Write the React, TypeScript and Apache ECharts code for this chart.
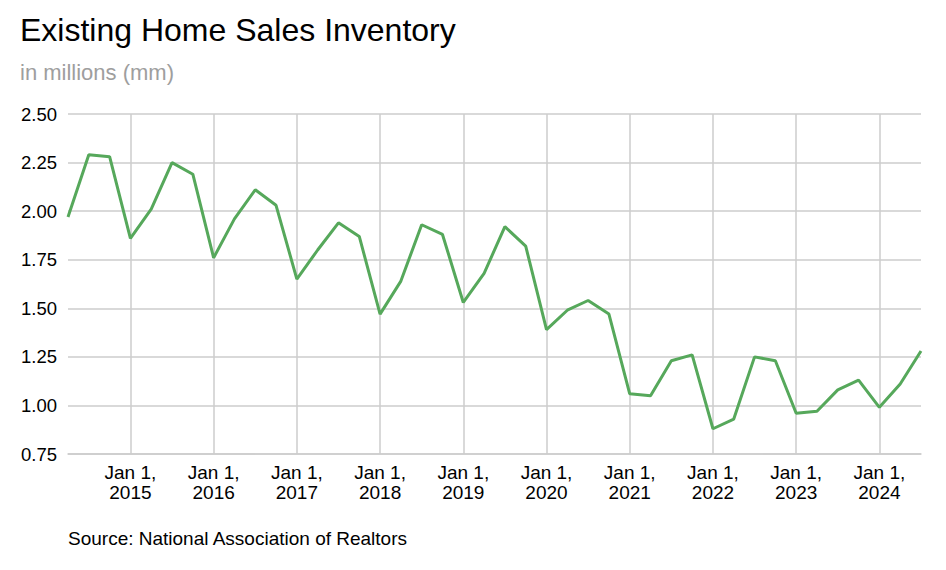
import React, { useEffect, useRef } from "react";
import * as echarts from "echarts";

const quarters: string[] = [
  "2014-04", "2014-07", "2014-10",
  "2015-01", "2015-04", "2015-07", "2015-10",
  "2016-01", "2016-04", "2016-07", "2016-10",
  "2017-01", "2017-04", "2017-07", "2017-10",
  "2018-01", "2018-04", "2018-07", "2018-10",
  "2019-01", "2019-04", "2019-07", "2019-10",
  "2020-01", "2020-04", "2020-07", "2020-10",
  "2021-01", "2021-04", "2021-07", "2021-10",
  "2022-01", "2022-04", "2022-07", "2022-10",
  "2023-01", "2023-04", "2023-07", "2023-10",
  "2024-01", "2024-04", "2024-07",
];

const inventory: number[] = [
  1.97, 2.29, 2.28,
  1.86, 2.01, 2.25, 2.19,
  1.76, 1.96, 2.11, 2.03,
  1.65, 1.8, 1.94, 1.87,
  1.47, 1.64, 1.93, 1.88,
  1.53, 1.68, 1.92, 1.82,
  1.39, 1.49, 1.54, 1.47,
  1.06, 1.05, 1.23, 1.26,
  0.88, 0.93, 1.25, 1.23,
  0.96, 0.97, 1.08, 1.13,
  0.99, 1.11, 1.28,
];

const titleText = "Existing Home Sales Inventory";
const subtitleText = "in millions (mm)";
const sourceText = "Source: National Association of Realtors";

const FONT = "'Liberation Sans', Arial, Helvetica, sans-serif";

const isJan = (_idx: number, value: string) => value.endsWith("-01");

export default function App() {
  const ref = useRef<HTMLDivElement>(null);

  useEffect(() => {
    if (!ref.current) return;
    const chart = echarts.init(ref.current, undefined, { renderer: "svg" });
    chart.setOption({
      animation: false,
      backgroundColor: "#ffffff",
      textStyle: { fontFamily: FONT },
      grid: { left: 68, right: 25, top: 114, bottom: 116, containLabel: false },
      graphic: [
        {
          type: "text",
          left: 20,
          top: 14,
          style: { text: titleText, font: `32px ${FONT}`, fill: "#000000" },
        },
        {
          type: "text",
          left: 20,
          top: 61,
          style: { text: subtitleText, font: `22px ${FONT}`, fill: "#9e9e9e" },
        },
        {
          type: "text",
          left: 68,
          top: 529,
          style: { text: sourceText, font: `19px ${FONT}`, fill: "#000000" },
        },
      ],
      xAxis: {
        type: "category",
        data: quarters,
        boundaryGap: false,
        axisTick: { show: false },
        axisLine: { show: true, lineStyle: { color: "#cccccc", width: 1.5 } },
        axisLabel: {
          interval: isJan,
          color: "#000000",
          fontSize: 19,
          lineHeight: 20,
          margin: 8,
          fontFamily: FONT,
          formatter: (v: string) => `Jan 1,\n${v.slice(0, 4)}`,
        },
        splitLine: {
          show: true,
          interval: isJan,
          lineStyle: { color: "#cccccc", width: 1.5 },
        },
      },
      yAxis: {
        type: "value",
        min: 0.75,
        max: 2.5,
        interval: 0.25,
        axisLine: { show: false },
        axisTick: { show: false },
        axisLabel: {
          color: "#000000",
          fontSize: 18.5,
          margin: 11,
          fontFamily: FONT,
          formatter: (v: number) => v.toFixed(2),
        },
        splitLine: { lineStyle: { color: "#cccccc", width: 1.5 } },
      },
      series: [
        {
          type: "line",
          data: inventory,
          symbol: "none",
          lineStyle: { color: "#56a85b", width: 3 },
          itemStyle: { color: "#56a85b" },
        },
      ],
    });
    return () => chart.dispose();
  }, []);

  return (
    <div
      ref={ref}
      style={{ position: "fixed", left: 0, top: 0, width: 946, height: 570 }}
    />
  );
}
